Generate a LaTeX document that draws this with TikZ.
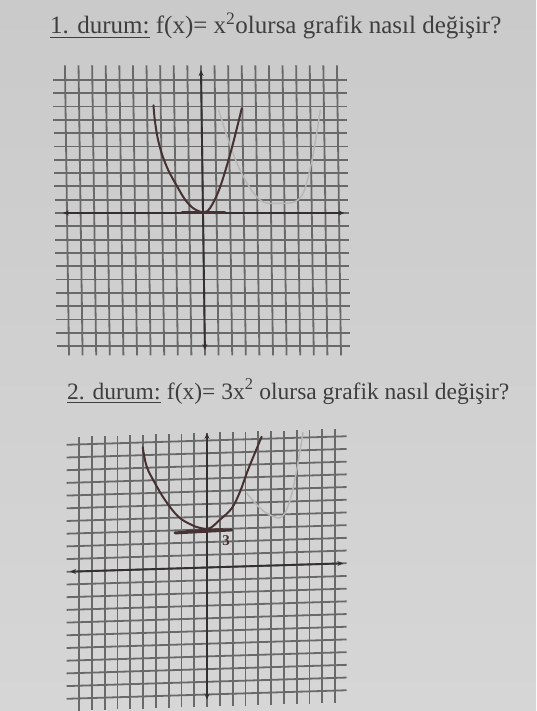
\documentclass[tikz,border=0pt]{standalone}
\usepackage{fontspec}
\setmainfont{Liberation Serif}
\usetikzlibrary{arrows.meta}
\definecolor{paper}{RGB}{202,202,202}
\definecolor{paperb}{RGB}{214,214,214}
\definecolor{ink}{RGB}{62,62,62}
\definecolor{gridc}{RGB}{105,105,105}
\definecolor{axisc}{RGB}{52,48,48}
\definecolor{pen}{RGB}{70,50,50}
\definecolor{ghost}{RGB}{182,182,182}
\tikzset{
  gridline/.style={draw=gridc, line width=1.8pt},
  axisline/.style={draw=axisc, line width=1.9pt, {Stealth[length=6pt,width=5pt]}-{Stealth[length=6pt,width=5pt]}},
  curve/.style={draw=pen, line width=2pt, line cap=round, line join=round},
  ghostcurve/.style={draw=ghost, line width=1.5pt, line cap=round, line join=round},
  title/.style={font=\fontsize{25}{28}\selectfont, text=ink, inner sep=0pt, anchor=base west},
  ulinestyle/.style={draw=ink, line width=1.3pt},
}
\begin{document}
\begin{tikzpicture}[x=1pt,y=-1pt]
\shade[top color=paper, bottom color=paperb] (0,0) rectangle (536,711);
\useasboundingbox (0,0) rectangle (536,711);

% ---------- title 1 ----------
\node[title] (d1) at (50,34) {1. durum:};
\node[title] (t1) at ([xshift=6pt]d1.base east) {f(x)= x\textsuperscript{2}olursa grafik nasıl değişir?};
\draw[ulinestyle] ([yshift=-3.5pt]d1.base west) -- ([yshift=-3.5pt]d1.base east);

% ---------- graph 1 ----------
\begin{scope}[shift={(203,213)}, x=13.6pt, y=13.3pt, xslant=-0.014]
  \foreach \j in {-10,...,10} {\draw[gridline] (-10.9,\j) -- (10.7,\j);}
  \foreach \i in {-10,...,10} {\draw[gridline] (\i,-10.7) -- (\i,11.1);}
  \draw[ghostcurve] plot[smooth, tension=0.6] coordinates {(1.25,7.74) (2.6,3.61) (4.07,1.11) (5.42,0.73) (7.13,1.11) (7.99,3.61) (8.73,7.74)};
  \draw[axisline] (-10.3,0) -- (10.4,0);
  \draw[axisline] (0,-10.3) -- (0,10.75);
  \draw[curve] plot[smooth, tension=0.55] coordinates {(-3.53,8.1) (-3.45,7.0) (-3.25,5.6) (-2.95,4.4) (-2.5,3.2) (-1.93,2.1) (-1.3,1.0) (-0.7,0.35) (0,0.06) (0.51,0.35) (1.25,1.86) (2.11,4.61) (2.96,7.87)};
  \draw[draw=pen, line width=3.2pt, line cap=round] (-1.54,0.05) -- (1.6,0.05);
\end{scope}

% ---------- title 2 ----------
\node[title, font=\fontsize{23.5}{28}\selectfont] (d2) at (67,399) {2. durum:};
\node[title, font=\fontsize{23.5}{28}\selectfont] (t2) at ([xshift=6pt]d2.base east) {f(x)= 3x\textsuperscript{2} olursa grafik nasıl değişir?};
\draw[ulinestyle] ([yshift=-3.5pt]d2.base west) -- ([yshift=-3.5pt]d2.base east);

% ---------- graph 2 ----------
\begin{scope}[shift={(207,567.5)}, x=12.8pt, y=12.7pt, yslant=0.0305]
  \foreach \j in {-10,...,10} {\draw[gridline] (-10.96,\j) -- (10.9,\j);}
  \foreach \i in {-10,...,10} {\draw[gridline] (\i,-10.96) -- (\i,10.6);}
  \draw[ghostcurve] plot[smooth, tension=0.6] coordinates {(3.1,5.75) (4.1,4.6) (4.9,4.0) (5.9,3.85) (6.7,5.9) (7.5,10.4)};
  \draw[axisline] (-10.7,0) -- (10.65,0);
  \draw[axisline] (0,-10.4) -- (0,10.6);
  \draw[curve] plot[smooth, tension=0.6] coordinates {(-5.02,9.62) (-4.71,8.09) (-4.06,6.76) (-3.28,5.41) (-2.24,4.07) (-1.2,3.39) (-0.41,3.1) (0.23,3.09) (1.02,3.74) (1.93,4.6) (2.58,5.89) (3.1,7.32) (3.62,8.61) (4.27,10.17)};
  \draw[draw=pen, line width=3pt, line cap=round] (-2.5,2.8) -- (1.93,2.9);
  \draw[draw=pen, line width=1.6pt, line cap=round] (-1.6,2.95) -- (1.2,3.0);
  \node[font=\fontsize{15}{15}\selectfont\bfseries, text=pen, inner sep=0pt] (three) at (1.5,2.1) {3};
\end{scope}
\end{tikzpicture}
\end{document}
